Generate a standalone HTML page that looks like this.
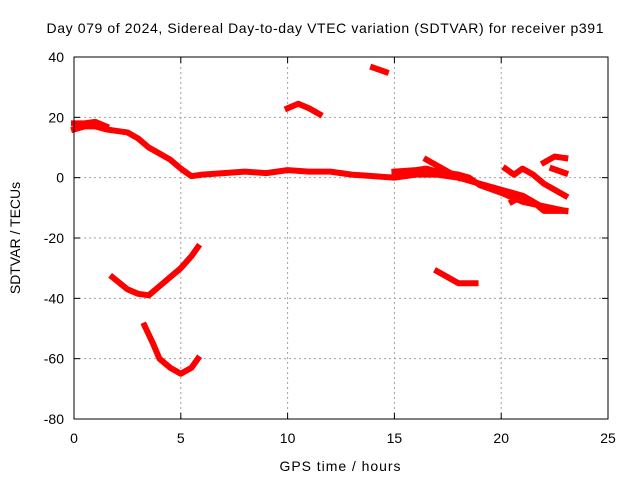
<!DOCTYPE html>
<html><head><meta charset="utf-8"><style>
body{margin:0;background:#fff;}
svg{display:block;font-family:"Liberation Sans",sans-serif;}
</style></head><body>
<svg id="chart" width="640" height="480">
<rect width="640" height="480" fill="#fff"/>
<text x="325" y="33" font-size="14" text-anchor="middle" textLength="557" lengthAdjust="spacing">Day 079 of 2024, Sidereal Day-to-day VTEC variation (SDTVAR) for receiver p391</text>
<text x="340" y="471" font-size="14" text-anchor="middle" textLength="121">GPS time / hours</text>
<text transform="translate(20,238) rotate(-90)" font-size="14" text-anchor="middle">SDTVAR / TECUs</text>
<g id="grid"></g><g id="ticks"></g><g id="series"></g>
<rect x="74" y="57" width="534" height="362" fill="none" stroke="#000"/>
</svg>
<script>
const xTicks=[0,5,10,15,20,25];
const yTicks=[40,20,0,-20,-40,-60,-80];
const track1=[[0,16],[0.5,17],[1,17],[1.5,16],[2,15.5],[2.5,15],[3,13],[3.5,10],[4,8],[4.5,6],[5,3],[5.5,0.5],[6,1],[7,1.5],[8,2],[9,1.5],[10,2.5],[11,2],[12,2],[13,1],[14,0.5],[15,0],[16,1],[17,1],[18,0],[19,-2],[20,-4],[21,-6],[22,-10],[23,-11]];
const track1b=[[0,18],[0.5,18],[1,18.5],[1.5,17]];
const track1c=[[15,2],[16,2.5],[16.5,3],[17,2],[18,1],[18.5,0],[19,-2.5],[20,-5],[21,-8],[22,-9.5],[23,-11]];
const track2=[[10,23],[10.5,24.5],[11,23],[11.5,21]];
const track3=[[14,36.5],[14.6,35]];
const track4=[[1.8,-33],[2.5,-37],[3,-38.5],[3.5,-39],[4,-36],[4.5,-33],[5,-30],[5.5,-26],[5.8,-23]];
const track5=[[3.3,-49],[3.7,-55],[4,-60],[4.5,-63],[5,-65],[5.5,-63],[5.8,-60]];
const track6=[[17,-31],[17.5,-33],[18,-35],[18.8,-35]];
const track7=[[16.5,6],[17,4],[17.5,2],[18,0]];
const track8=[[20.2,3],[20.6,1],[21,3],[21.5,1],[22,-2],[22.5,-4],[23,-6]];
const track9=[[22,5],[22.5,7],[23,6.5]];
const track10=[[20.5,-8],[21,-6],[21.5,-8],[22,-11],[23,-11]];
const track11=[[22.4,3],[23,1.5]];
const tracks=[track1,track1b,track1c,track2,track3,track4,track5,track6,track7,track8,track9,track10,track11];
const X=v=>74+v*534/25, Y=v=>57+(40-v)*362/120;
const NS="http://www.w3.org/2000/svg";
const g=document.getElementById('grid'),t=document.getElementById('ticks'),s=document.getElementById('series');
function mk(tag,a,p){const e=document.createElementNS(NS,tag);for(const k in a)e.setAttribute(k,a[k]);p.appendChild(e);return e;}
xTicks.forEach(v=>{
 if(v>0&&v<25){const l=mk('line',{x1:X(v),x2:X(v),y1:57,y2:419,stroke:'#a0a0a0','stroke-dasharray':'2,3'},g);
 
 }
 const tx=mk('text',{x:X(v),y:443,'font-size':14,'text-anchor':'middle'},t);tx.textContent=v;
 
 
 mk('line',{x1:X(v),x2:X(v),y1:419,y2:413,stroke:'#000'},t);mk('line',{x1:X(v),x2:X(v),y1:57,y2:63,stroke:'#000'},t);
});
yTicks.forEach(v=>{
 if(v<40&&v>-80){const l=mk('line',{x1:74,x2:608,y1:Y(v),y2:Y(v),stroke:'#a0a0a0','stroke-dasharray':'2,3'},g);
 
 }
 const tx=mk('text',{x:64,y:Y(v)+5,'font-size':14,'text-anchor':'end'},t);tx.textContent=v;
 
 
 mk('line',{x1:74,x2:80,y1:Y(v),y2:Y(v),stroke:'#000'},t);mk('line',{x1:602,x2:608,y1:Y(v),y2:Y(v),stroke:'#000'},t);
});
tracks.forEach(tr=>{
 const p=mk('polyline',{points:tr.map(d=>X(d[0])+','+Y(d[1])).join(' '),fill:'none',stroke:'#f00','stroke-width':6,'stroke-linejoin':'round','stroke-linecap':'square'},s);
 
 
});
</script>
</body></html>
